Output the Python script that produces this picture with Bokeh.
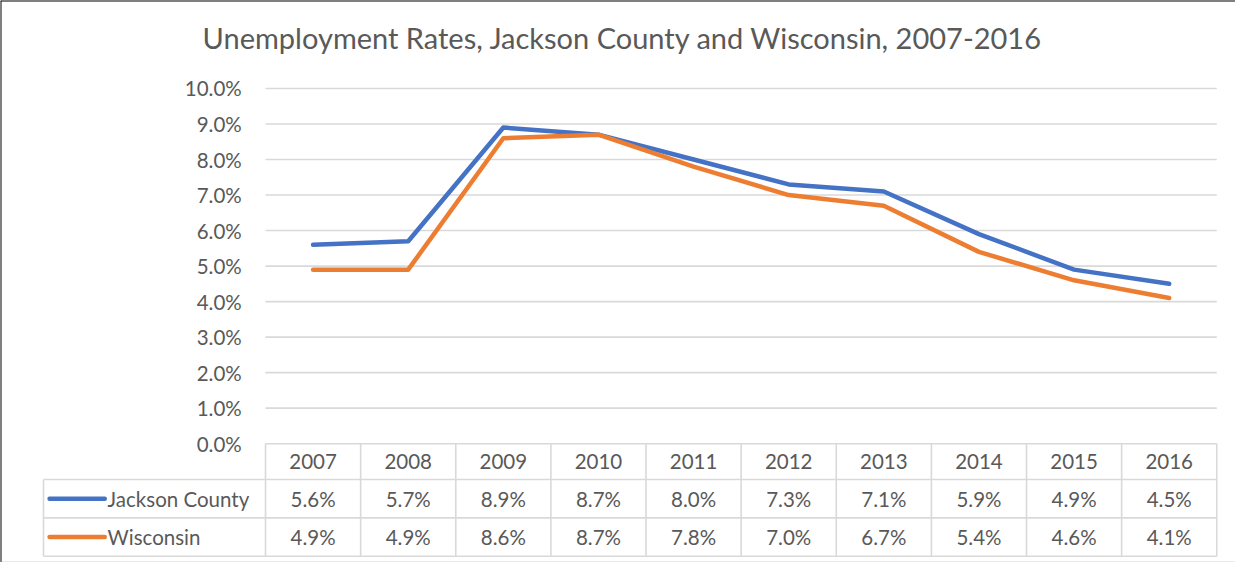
from bokeh.plotting import figure
from bokeh.models import ColumnDataSource, Label, Span
from bokeh.core.properties import value
from bokeh.embed import file_html
from bokeh.resources import INLINE

# ---- data ----
years = ["2007", "2008", "2009", "2010", "2011", "2012", "2013", "2014", "2015", "2016"]
jackson = [5.6, 5.7, 8.9, 8.7, 8.0, 7.3, 7.1, 5.9, 4.9, 4.5]
wisconsin = [4.9, 4.9, 8.6, 8.7, 7.8, 7.0, 6.7, 5.4, 4.6, 4.1]
series_names = ["Jackson County", "Wisconsin"]
y_ticks = [0, 1, 2, 3, 4, 5, 6, 7, 8, 9, 10]
title_text = "Unemployment Rates, Jackson County and Wisconsin, 2007-2016"

# ---- styling / layout ----
BLUE = "#4472C4"
ORANGE = "#ED7D31"
TXT = "#595959"
GRID = "#d9d9d9"
FONT = value("Lato")
FS = "20.5px"

W, H = 1235, 562
X0, X1 = -2.786, 10.197
Y0, Y1 = -3.345, 12.477

n = len(years)
xc = [i + 0.5 for i in range(n)]

# table row boundaries (data units below 0)
row_edges = [0, -1.01, -2.09, -3.17]
row_centers = [(row_edges[k] + row_edges[k + 1]) / 2 for k in range(3)]
leg_left = -2.334

p = figure(width=W, height=H, x_range=(X0, X1), y_range=(Y0, Y1),
           x_axis_type=None, y_axis_type=None, toolbar_location=None,
           output_backend="svg", min_border=0, min_border_left=0,
           min_border_right=0, min_border_top=0, min_border_bottom=0)
p.outline_line_color = None
p.background_fill_color = "white"
p.border_fill_color = "white"

# gridlines (from tick list), spanning the plot area
p.segment(x0=[0] * len(y_ticks), x1=[n] * len(y_ticks), y0=y_ticks, y1=y_ticks,
          line_color=GRID, line_width=1.6)

# y tick labels
p.text(x=[-0.25] * len(y_ticks), y=y_ticks, text=[f"{t:.1f}%" for t in y_ticks],
       text_align="right", text_baseline="middle", text_font=FONT,
       text_font_size=FS, text_color=TXT)

# data table grid
p.segment(x0=list(range(n + 1)), x1=list(range(n + 1)),
          y0=[row_edges[0]] * (n + 1), y1=[row_edges[-1]] * (n + 1),
          line_color=GRID, line_width=1.6)
p.segment(x0=[leg_left], x1=[leg_left], y0=[row_edges[1]], y1=[row_edges[-1]],
          line_color=GRID, line_width=1.6)
p.segment(x0=[leg_left] * 3, x1=[n] * 3, y0=row_edges[1:], y1=row_edges[1:],
          line_color=GRID, line_width=1.6)

# header row: years
p.text(x=xc, y=[row_centers[0]] * n, text=years, text_align="center",
       text_baseline="middle", text_font=FONT, text_font_size=FS, text_color=TXT)

# data rows
for vals, rc in ((jackson, row_centers[1]), (wisconsin, row_centers[2])):
    p.text(x=xc, y=[rc] * n, text=[f"{v:.1f}%" for v in vals], text_align="center",
           text_baseline="middle", text_font=FONT, text_font_size=FS, text_color=TXT)

# legend keys inside the table
for name, col, rc in ((series_names[0], BLUE, row_centers[1]),
                      (series_names[1], ORANGE, row_centers[2])):
    p.segment(x0=[-2.27], x1=[-1.69], y0=[rc], y1=[rc], line_color=col,
              line_width=4.5, line_cap="round")
    p.text(x=[-1.66], y=[rc], text=[name], text_align="left",
           text_baseline="middle", text_font=FONT, text_font_size=FS, text_color=TXT)

# series lines
src = ColumnDataSource(dict(x=xc, jackson=jackson, wisconsin=wisconsin))
p.line("x", "jackson", source=src, line_color=BLUE, line_width=4.5,
       line_join="round", line_cap="round")
p.line("x", "wisconsin", source=src, line_color=ORANGE, line_width=4.5,
       line_join="round", line_cap="round")

# title
p.add_layout(Label(x=(X0 + X1) / 2 + 0.05, y=11.435, text=title_text,
                   text_align="center", text_baseline="middle",
                   text_font="Lato", text_font_size="29px", text_color=TXT))

# chart border
p.add_layout(Span(location=X0, dimension="height", line_color="black", line_width=2))
p.add_layout(Span(location=Y1, dimension="width", line_color="black", line_width=2))
p.add_layout(Span(location=Y0, dimension="width", line_color="#a6a6a6", line_width=1.5))

open("out.html", "w").write(file_html(p, INLINE))
